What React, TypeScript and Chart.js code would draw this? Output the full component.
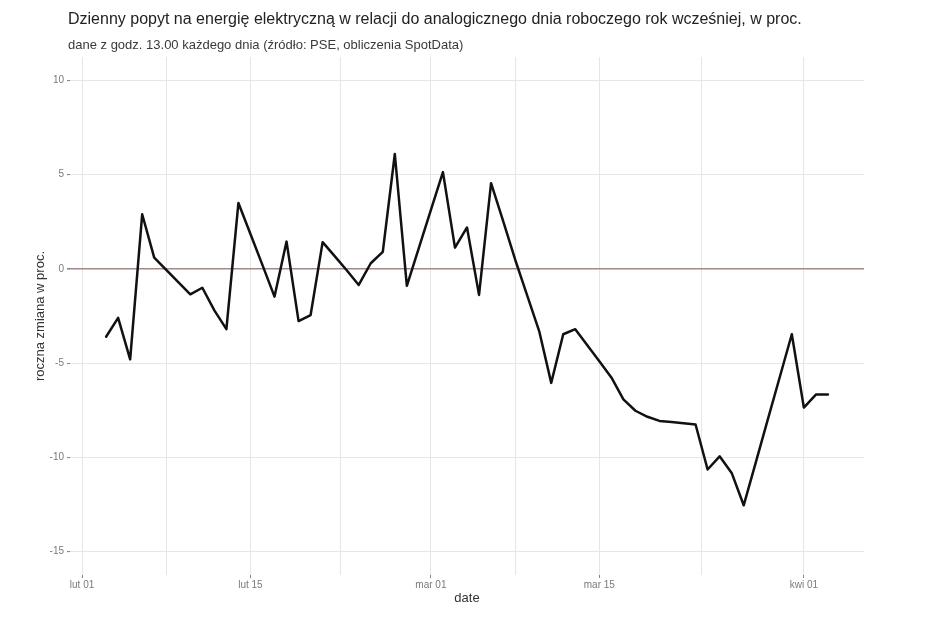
import React, { useEffect, useRef } from "react";
import { Chart, registerables } from "chart.js";

Chart.register(...registerables);

const titleText =
  "Dzienny popyt na energię elektryczną w relacji do analogicznego dnia roboczego rok wcześniej, w proc.";
const subtitleText = "dane z godz. 13.00 każdego dnia (źródło: PSE, obliczenia SpotData)";
const xAxisTitle = "date";
const yAxisTitle = "roczna zmiana w proc.";

const dates: string[] = [
  "2024-02-03", "2024-02-04", "2024-02-05", "2024-02-06", "2024-02-07", "2024-02-08", "2024-02-09",
  "2024-02-10", "2024-02-11", "2024-02-12", "2024-02-13", "2024-02-14", "2024-02-15", "2024-02-16",
  "2024-02-17", "2024-02-18", "2024-02-19", "2024-02-20", "2024-02-21", "2024-02-22", "2024-02-23",
  "2024-02-24", "2024-02-25", "2024-02-26", "2024-02-27", "2024-02-28", "2024-02-29", "2024-03-01",
  "2024-03-02", "2024-03-03", "2024-03-04", "2024-03-05", "2024-03-06", "2024-03-07", "2024-03-08",
  "2024-03-09", "2024-03-10", "2024-03-11", "2024-03-12", "2024-03-13", "2024-03-14", "2024-03-15",
  "2024-03-16", "2024-03-17", "2024-03-18", "2024-03-19", "2024-03-20", "2024-03-21", "2024-03-22",
  "2024-03-23", "2024-03-24", "2024-03-25", "2024-03-26", "2024-03-27", "2024-03-28", "2024-03-29",
  "2024-03-30", "2024-03-31", "2024-04-01", "2024-04-02", "2024-04-03",
];

const values: number[] = [
  -3.6, -2.6, -4.8, 2.9, 0.6, -0.05, -0.7,
  -1.35, -1.0, -2.2, -3.2, 3.5, 1.85, 0.2,
  -1.47, 1.45, -2.77, -2.45, 1.42, 0.68, -0.07,
  -0.85, 0.3, 0.9, 6.1, -0.9, 1.12, 3.13,
  5.14, 1.13, 2.2, -1.38, 4.55, 2.55, 0.5,
  -1.4, -3.3, -6.05, -3.47, -3.2, -4.05, -4.9,
  -5.76, -6.93, -7.53, -7.85, -8.07, -8.13, -8.2,
  -8.26, -10.65, -9.95, -10.83, -12.55, -10.28, -8.0,
  -5.74, -3.47, -7.36, -6.67, -6.67,
];

// x tick breaks (major with labels, minor without)
const majorTickDates: string[] = ["2024-02-01", "2024-02-15", "2024-03-01", "2024-03-15", "2024-04-01"];
const majorTickLabels: string[] = ["lut 01", "lut 15", "mar 01", "mar 15", "kwi 01"];
const minorTickDates: string[] = ["2024-02-08", "2024-02-22T12:00", "2024-03-08", "2024-03-23T12:00"];
const yTicks: number[] = [-15, -10, -5, 0, 5, 10];

const ORIGIN = Date.UTC(2024, 1, 1);
function dayOffset(s: string): number {
  const [d, t] = s.split("T");
  const [y, m, dd] = d.split("-").map(Number);
  let hours = 0;
  if (t) hours = Number(t.split(":")[0]);
  return (Date.UTC(y, m - 1, dd, hours) - ORIGIN) / 86400000;
}

const FONT = "'Liberation Sans', Arial, Helvetica, sans-serif";

export default function App() {
  const ref = useRef<HTMLCanvasElement | null>(null);

  useEffect(() => {
    document.body.style.margin = "0";
    const canvas = ref.current;
    if (!canvas) return;

    const points = dates.map((d, i) => ({ x: dayOffset(d), y: values[i] }));
    const xs = points.map((p) => p.x);
    const xMin0 = Math.min(...xs);
    const xMax0 = Math.max(...xs);
    const xr = xMax0 - xMin0;
    const yLo = -15;
    const yHi = 10;
    const yr = yHi - yLo;

    const majorX = majorTickDates.map(dayOffset);
    const minorX = minorTickDates.map(dayOffset);
    const allX = [...majorX, ...minorX].sort((a, b) => a - b);
    const isMajor = (v: number) => majorX.some((m) => Math.abs(m - v) < 1e-6);

    const titlePlugin = {
      id: "ggTitle",
      afterDraw(chart: any) {
        const { ctx, chartArea } = chart;
        ctx.save();
        ctx.textAlign = "left";
        ctx.textBaseline = "middle";
        ctx.fillStyle = "#222222";
        ctx.font = `16px ${FONT}`;
        ctx.fillText(titleText, chartArea.left - 2, 20);
        ctx.fillStyle = "#3a3a3a";
        ctx.font = `13px ${FONT}`;
        ctx.fillText(subtitleText, chartArea.left - 2, 45);
        ctx.restore();
      },
    };

    const chart = new Chart(canvas, {
      type: "line",
      data: {
        datasets: [
          {
            data: points,
            borderColor: "#111111",
            borderWidth: 2.5,
            borderJoinStyle: "round",
            borderCapStyle: "round",
            pointRadius: 0,
            tension: 0,
            fill: false,
          },
        ],
      },
      options: {
        animation: false,
        responsive: false,
        events: [],
        layout: { padding: { left: 33, right: 81, top: 57, bottom: 26 } },
        plugins: {
          legend: { display: false },
          tooltip: { enabled: false },
          title: { display: false },
        },
        scales: {
          x: {
            type: "linear",
            min: xMin0 - xr * 0.05,
            max: xMax0 + xr * 0.05,
            border: { display: false },
            afterBuildTicks: (scale: any) => {
              scale.ticks = allX.map((v) => ({ value: v }));
            },
            afterFit: (scale: any) => {
              scale.height = 31;
            },
            grid: {
              color: "#e6e6e6",
              lineWidth: 1,
              drawTicks: true,
              tickLength: 3,
              tickColor: (ctx: any) =>
                ctx.tick && isMajor(ctx.tick.value) ? "#888888" : "rgba(0,0,0,0)",
            },
            ticks: {
              autoSkip: false,
              maxRotation: 0,
              padding: 1,
              color: "#7a7a7a",
              font: { family: FONT, size: 10 },
              callback: (v: any) => {
                const idx = majorX.findIndex((m) => Math.abs(m - Number(v)) < 1e-6);
                return idx >= 0 ? majorTickLabels[idx] : "";
              },
            },
            title: {
              display: true,
              text: xAxisTitle,
              color: "#333333",
              font: { family: FONT, size: 13 },
              padding: 0,
            },
          },
          y: {
            type: "linear",
            min: yLo - yr * 0.05,
            max: yHi + yr * 0.05,
            border: { display: false },
            afterBuildTicks: (scale: any) => {
              scale.ticks = yTicks.map((v) => ({ value: v }));
            },
            afterFit: (scale: any) => {
              scale.width = 37;
            },
            grid: {
              color: (ctx: any) =>
                ctx.tick && ctx.tick.value === 0 ? "#a88686" : "#e6e6e6",
              lineWidth: (ctx: any) => (ctx.tick && ctx.tick.value === 0 ? 1.6 : 1.1),
              drawTicks: true,
              tickLength: 3,
              tickColor: "#888888",
            },
            ticks: {
              padding: 3,
              color: "#7a7a7a",
              font: { family: FONT, size: 10 },
              callback: (v: any) => String(v),
            },
            title: {
              display: true,
              text: yAxisTitle,
              color: "#333333",
              font: { family: FONT, size: 13 },
              padding: 0,
            },
          },
        },
      },
      plugins: [titlePlugin],
    } as any);

    return () => {
      chart.destroy();
    };
  }, []);

  return (
    <div style={{ position: "absolute", left: 0, top: 0, width: 945, height: 632, background: "#ffffff" }}>
      <canvas ref={ref} width={945} height={632} />
    </div>
  );
}
